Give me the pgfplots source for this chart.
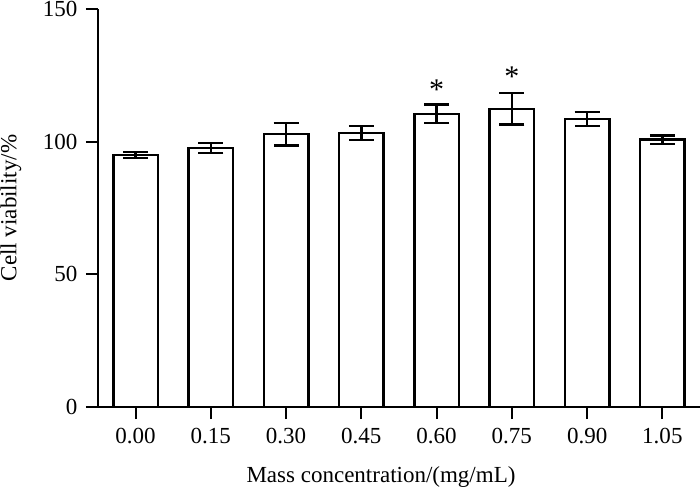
\documentclass[border=0pt]{standalone}
\usepackage{pgfplots}
\pgfplotsset{compat=1.18}
\usepackage{fontspec}
\setmainfont{Liberation Serif}
\begin{document}
\begin{tikzpicture}[x=1pt,y=1pt]
\begin{axis}[
  at={(0,0)}, anchor=south west,
  scale only axis,
  width=602pt, height=398pt,
  xmin=-0.5, xmax=7.5,
  ymin=0, ymax=150,
  axis x line*=bottom, axis y line*=left,
  axis line style={line width=2pt, -},
  xtick={0,1,2,3,4,5,6,7},
  xticklabels={0.00,0.15,0.30,0.45,0.60,0.75,0.90,1.05},
  ytick={0,50,100,150},
  tick style={line width=2pt, black},
  tick align=outside,
  major tick length=12pt,
  /pgf/number format/assume math mode=true,
  tick label style={font=\fontsize{23}{26}\selectfont},
  xticklabel style={yshift=-6pt},
  yticklabel style={xshift=-5pt},
  xlabel={Mass concentration/(mg/mL)},
  ylabel={Cell viability/\%},
  label style={font=\fontsize{23}{26}\selectfont},
  xlabel style={at={(axis description cs:0.5,0)}, anchor=center, yshift=-70pt, xshift=-18pt},
  ylabel style={at={(axis description cs:0,0.5)}, anchor=center, yshift=87pt},
  clip=false,
]
\addplot[ybar, bar width=0.59, fill=white, draw=black, line width=2.4pt,
  error bars/.cd, y dir=both, y explicit,
  error bar style={line width=2.4pt, black},
  error mark=|,
  error mark options={mark size=12.5pt, /tikz/line width=2.4pt, black, solid}]
  coordinates {
  (0,95.0) +- (0,1.2)
  (1,97.6) +- (0,1.8)
  (2,102.8) +- (0,4.3)
  (3,103.3) +- (0,2.6)
  (4,110.5) +- (0,3.5)
  (5,112.4) +- (0,5.9)
  (6,108.5) +- (0,2.6)
  (7,100.8) +- (0,1.6)
  };
\node[font=\fontsize{30}{30}\selectfont] at (axis cs:4,119.5) {*};
\node[font=\fontsize{30}{30}\selectfont] at (axis cs:5,124.5) {*};
\end{axis}
\pgfresetboundingbox
\path[use as bounding box] (-98,-86) rectangle (602,407);
\end{tikzpicture}
\end{document}
